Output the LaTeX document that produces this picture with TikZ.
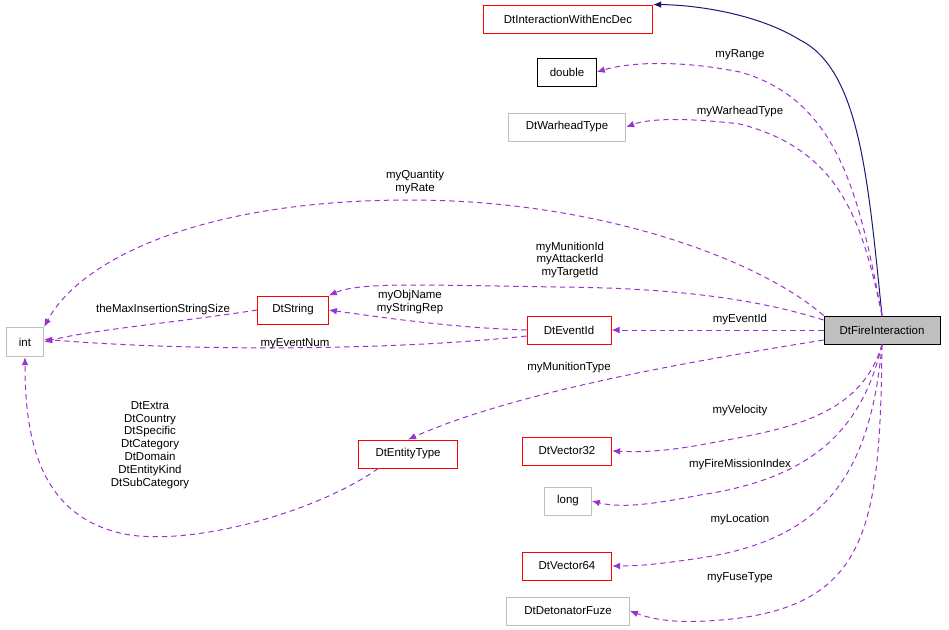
\documentclass[tikz,border=0pt]{standalone}
\usepackage{fontspec}
\setmainfont{Liberation Sans}
\usetikzlibrary{positioning,arrows.meta}
\definecolor{EdgePurple}{RGB}{154,50,205}
\definecolor{EdgeNavy}{RGB}{25,25,112}
\definecolor{BoxGray}{RGB}{191,191,191}
\begin{document}
\begin{tikzpicture}[
    x=0.75pt, y=-0.75pt,
    font=\fontsize{8.6}{9.6}\selectfont,
    box/.style={draw=red, line width=0.75pt, minimum height=21pt, inner xsep=3pt, anchor=center},
    grey/.style={box, draw=BoxGray},
    uses/.style={draw=EdgePurple, line width=0.75pt, dashed, dash pattern=on 4pt off 3pt, -{Latex[length=6pt,width=5pt]}},
    inherits/.style={draw=EdgeNavy, line width=0.75pt, -{Latex[length=6pt,width=5pt]}},
    lbl/.style={align=center, inner sep=0pt},
  ]
  \useasboundingbox (0,0) rectangle (949,629);

  % Classes
  \node[box, draw=black, fill=BoxGray, minimum width=87pt] (fire) at (882,330) {DtFireInteraction};
  \node[box, minimum width=127pt] (encdec) at (568,19) {DtInteractionWithEncDec};
  \node[box, draw=black, minimum width=44pt] (dbl) at (567,72) {double};
  \node[grey, minimum width=88pt] (warhead) at (567,127) {DtWarheadType};
  \node[grey, minimum width=28pt, minimum height=22pt] (int) at (25,342) {int};
  \node[box, minimum width=53pt] (str) at (293,310) {DtString};
  \node[box, minimum width=63pt] (event) at (569,330) {DtEventId};
  \node[box, minimum width=74pt] (entity) at (408,454) {DtEntityType};
  \node[box, minimum width=67pt] (vec32) at (567,451) {DtVector32};
  \node[grey, minimum width=35pt] (long) at (568,501) {long};
  \node[box, minimum width=67pt] (vec64) at (567,566) {DtVector64};
  \node[grey, minimum width=92pt] (fuze) at (568,611) {DtDetonatorFuze};

  % Inheritance
  \draw[inherits] (fire.north) .. controls (868,180) and (860,70) .. (800,40)
    .. controls (760,15) and (700,5) .. (encdec.north east);

  % Members of DtFireInteraction
  \draw[uses] (fire.north) .. controls (860,200) and (840,100) .. (740,72)
    .. controls (680,60) and (630,62) .. (dbl.east);
  \node[lbl] (lRange) at (740,55) {myRange};
  \draw[uses] (fire.north) .. controls (862,220) and (840,150) .. (740,124)
    .. controls (690,118) and (650,118) .. (warhead.east);
  \node[lbl] (lWarhead) at (740,112) {myWarheadType};
  \draw[uses] (fire.north west) .. controls (760,260) and (600,200) .. (410,200)
    .. controls (200,200) and (80,260) .. (int.north east);
  \node[lbl] (lQty) at (415,182) {myQuantity\\myRate};
  \draw[uses] (fire.west) ++(0,-10) coordinate (fA)
    .. controls (760,300) and (680,288) .. (560,287)
    .. controls (420,285) and (360,282) .. (str.north east);
  \node[lbl] (lMun) at (570,260) {myMunitionId\\myAttackerId\\myTargetId};
  \draw[uses] (fire.west) -- (event.east);
  \node[lbl] (lEvent) at (740,320) {myEventId};
  \draw[uses] (fire.west) ++(0,10) coordinate (fB)
    .. controls (700,360) and (520,390) .. (entity.north);
  \node[lbl] (lMunType) at (569,368) {myMunitionType};
  \draw[uses] (fire.south) .. controls (860,420) and (780,430) .. (700,445)
    .. controls (660,452) and (640,452) .. (vec32.east);
  \node[lbl] (lVel) at (740,411) {myVelocity};
  \draw[uses] (fire.south) .. controls (860,440) and (800,480) .. (700,495)
    .. controls (650,505) and (620,508) .. (long.east);
  \node[lbl] (lFire) at (740,465) {myFireMissionIndex};
  \draw[uses] (fire.south) .. controls (870,480) and (820,540) .. (700,558)
    .. controls (660,564) and (640,566) .. (vec64.east);
  \node[lbl] (lLoc) at (740,520) {myLocation};
  \draw[uses] (fire.south) .. controls (880,520) and (870,600) .. (740,618)
    .. controls (690,624) and (660,622) .. (fuze.east);
  \node[lbl] (lFuse) at (740,578) {myFuseType};

  % Other members
  \draw[uses] (str.west) .. controls (180,322) and (90,330) .. (int.east);
  \node[lbl] (lMax) at (163,310) {theMaxInsertionStringSize};
  \draw[uses] (event.west) .. controls (460,328) and (400,320) .. (str.east);
  \node[lbl] (lObj) at (410,302) {myObjName\\myStringRep};
  \draw[uses] (event.west) ++(0,6) coordinate (eA)
    .. controls (400,350) and (200,352) .. ([yshift=2pt]int.east);
  \node[lbl] (lNum) at (295,344) {myEventNum};
  \draw[uses] (entity.south west) ++(20,0) coordinate (enA)
    .. controls (320,510) and (200,545) .. (130,535)
    .. controls (40,520) and (25,440) .. (int.south);
  \node[lbl] (lEnt) at (150,445) {DtExtra\\DtCountry\\DtSpecific\\DtCategory\\DtDomain\\DtEntityKind\\DtSubCategory};
\end{tikzpicture}
\end{document}
